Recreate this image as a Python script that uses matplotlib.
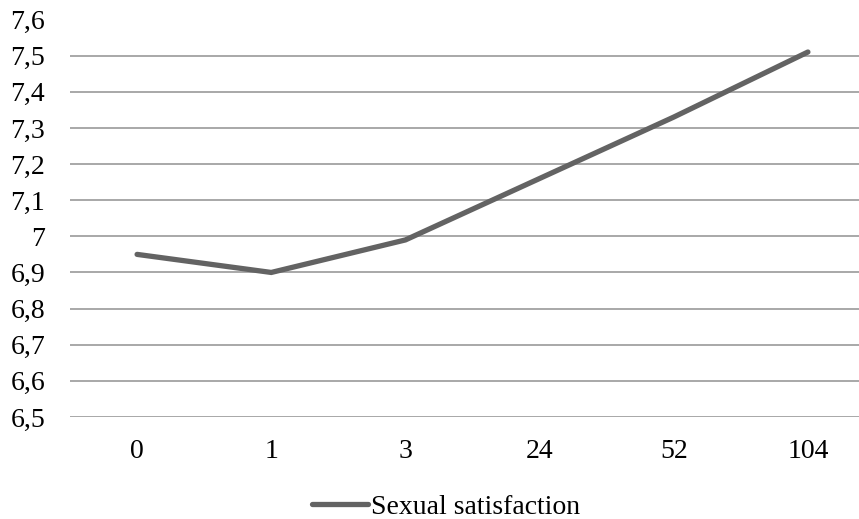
import matplotlib.pyplot as plt

weeks = ["0", "1", "3", "24", "52", "104"]
satisfaction = [6.95, 6.90, 6.99, 7.16, 7.33, 7.51]
y_ticks = [6.5, 6.6, 6.7, 6.8, 6.9, 7.0, 7.1, 7.2, 7.3, 7.4, 7.5, 7.6]
y_labels = ["6,5", "6,6", "6,7", "6,8", "6,9", "7", "7,1", "7,2", "7,3", "7,4", "7,5", "7,6"]

plt.rcParams['font.family'] = ['Liberation Serif', 'DejaVu Serif']
plt.rcParams['font.size'] = 20

fig = plt.figure(figsize=(8.59, 5.19), dpi=100)
# plot area runs past the right edge, like the cropped original
ax = fig.add_axes([70/859, 1-417/519, 805/859, (417-19.5)/519])

x = range(len(weeks))
ax.plot(x, satisfaction, color="#636363", lw=3.8, solid_capstyle="round",
        solid_joinstyle="miter", label="Sexual satisfaction", zorder=3)

ax.set_xlim(-0.5, len(weeks) - 0.5)
ax.set_ylim(6.5, 7.6)
ax.set_xticks(list(x))
ax.set_xticklabels(weeks)
ax.set_yticks(y_ticks)
ax.set_yticklabels(y_labels)
ax.tick_params(axis="both", length=0, colors="#000000")
ax.tick_params(axis="y", pad=18)
ax.tick_params(axis="x", pad=16)
ax.grid(axis="y", color="#9a9a9a", lw=1.2)
ax.set_axisbelow(True)
for s in ax.spines.values():
    s.set_visible(False)

fig.legend(loc="center", bbox_to_anchor=(446/859, 1-507/519), frameon=False,
           handlelength=2.0, handletextpad=0.1, borderpad=0)

fig.savefig("out.png", dpi=100)
